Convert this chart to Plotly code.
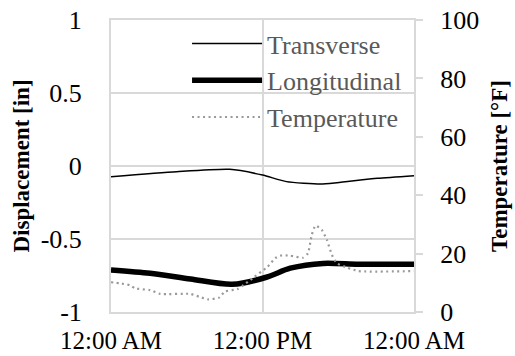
import plotly.graph_objects as go

# Time axis in hours after midnight
hours_transverse = [0, 5.2, 9.4, 12, 13.9, 16.6, 17.9, 21.1, 24]
transverse_in = [-0.073, -0.039, -0.023, -0.062, -0.107, -0.123, -0.114, -0.084, -0.066]

hours_longitudinal = [0, 3.1, 6.3, 9.6, 12.3, 14.2, 16.8, 19.6, 24]
longitudinal_in = [-0.712, -0.735, -0.774, -0.81, -0.762, -0.70, -0.667, -0.673, -0.673]

hours_temperature = [0, 0.7, 1.5, 1.9, 3.1, 3.9, 6.3, 7.0, 7.7, 8.6, 9.0, 10.0, 10.5,
                     11.2, 12.4, 13.0, 13.4, 14.2, 15.2, 15.6, 15.9, 16.2, 16.7, 17.1,
                     17.5, 17.9, 18.7, 19.6, 24]
temperature_f = [10.2, 9.8, 9.2, 8.1, 7.5, 6.2, 6.2, 5.2, 4.3, 5.0, 7.0, 7.8, 9.2,
                 11.5, 15.5, 18.4, 19.3, 19.3, 18.6, 20.1, 26.4, 29.6, 28.1, 24.7,
                 19.5, 16.7, 15.2, 14.0, 14.0]

time_ticks = [0, 12, 24]
time_labels = ["12:00 AM", "12:00 PM", "12:00 AM"]
disp_ticks = [-1, -0.5, 0, 0.5, 1]
disp_labels = ["-1", "-0.5", "0", "0.5", "1"]
temp_ticks = [0, 20, 40, 60, 80, 100]

FONT = "'Liberation Serif', 'Times New Roman', 'DejaVu Serif', serif"
GRID = "#d9d9d9"

fig = go.Figure()
fig.add_trace(go.Scatter(
    x=hours_transverse, y=transverse_in, name="Transverse", mode="lines",
    line=dict(color="black", width=1.5, shape="spline", smoothing=0.6),
))
fig.add_trace(go.Scatter(
    x=hours_longitudinal, y=longitudinal_in, name="Longitudinal", mode="lines",
    line=dict(color="black", width=5.5, shape="spline", smoothing=0.8),
))
fig.add_trace(go.Scatter(
    x=hours_temperature, y=temperature_f, name="Temperature", mode="lines",
    yaxis="y2",
    line=dict(color="#999999", width=2.2, dash="2px,3.5px", shape="spline", smoothing=0.5),
))

fig.update_layout(
    width=515, height=356,
    margin=dict(l=111, r=101, t=20, b=44),
    paper_bgcolor="white", plot_bgcolor="white",
    font=dict(family=FONT, size=26, color="black"),
    showlegend=True,
    legend=dict(
        x=0.251, y=1.0, xanchor="left", yanchor="top",
        bgcolor="rgba(0,0,0,0)", font=dict(family=FONT, size=26, color="#595959"),
        itemwidth=70, tracegroupgap=0,
    ),
    xaxis=dict(
        range=[0, 24], tickvals=time_ticks, ticktext=time_labels,
        showgrid=True, gridcolor=GRID, gridwidth=2,
        showline=True, linecolor=GRID, linewidth=2, mirror=True,
        ticks="", zeroline=False, ticklabelstandoff=5, automargin=False,
        tickfont=dict(family=FONT, size=25),
    ),
    yaxis=dict(
        range=[-1, 1], tickvals=disp_ticks, ticktext=disp_labels,
        showgrid=True, gridcolor=GRID, gridwidth=2,
        showline=True, linecolor=GRID, linewidth=2,
        ticks="", zeroline=False, ticklabelstandoff=22, automargin=False,
        title=dict(text="<b>Displacement [in]</b>", font=dict(family=FONT, size=23), standoff=5),
    ),
    yaxis2=dict(
        range=[0, 100], tickvals=temp_ticks, overlaying="y", side="right",
        showgrid=False, showline=True, linecolor=GRID, linewidth=2,
        ticks="outside", ticklen=7, tickwidth=2, tickcolor=GRID,
        zeroline=False, ticklabelstandoff=12, automargin=False,
        title=dict(text="<b>Temperature [°F]</b>", font=dict(family=FONT, size=23), standoff=13),
    ),
)

fig.write_html("out.html")
